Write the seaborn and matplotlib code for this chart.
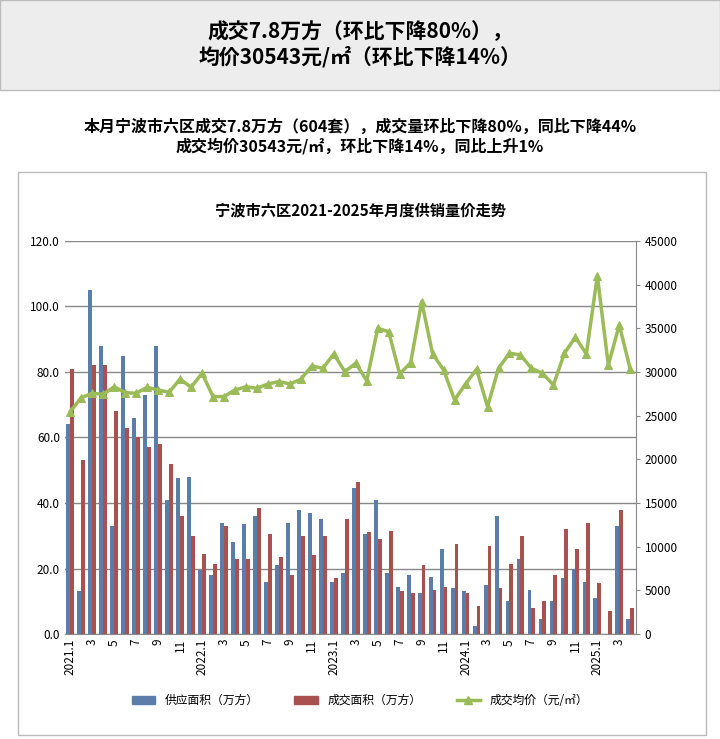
import numpy as np
import pandas as pd
import seaborn as sns
import matplotlib.pyplot as plt
from matplotlib.patches import Rectangle
from matplotlib.lines import Line2D
from matplotlib.patches import Patch

plt.rcParams["font.family"] = ["Noto Sans CJK SC", "Noto Sans CJK JP", "Noto Sans CJK TC",
                               "Noto Sans CJK KR", "DejaVu Sans"]

months = [f"{y}.{m}" for y in range(2021, 2026) for m in range(1, 13)][:52]
supply = [64, 13, 105, 88, 33, 85, 66, 73, 88, 41, 47.5, 48,
          19.5, 18, 34, 28, 33.5, 36, 16, 21, 34, 38, 37, 35,
          16, 18.5, 44.5, 30.5, 41, 18.5, 14.5, 18, 12.5, 17.5, 26, 14,
          13, 2.5, 15, 36, 10, 23, 13.5, 4.5, 10, 17, 20, 16,
          11, 0, 33, 4.5]
deal = [81, 53, 82, 82, 68, 63, 60, 57, 58, 52, 36, 30,
        24.5, 21.5, 33, 23, 23, 38.5, 30.5, 23.5, 18, 30, 24, 30,
        17, 35, 46.5, 31, 29, 31.5, 13, 12.5, 21, 13.5, 14.5, 27.5,
        12.5, 8.5, 27, 14, 21.5, 30, 8, 10, 18, 32, 26, 34,
        15.5, 7, 38, 8]
price = [25460, 27060, 27560, 27440, 28300, 27630, 27560, 28240, 27940, 27670, 29200, 28240,
         29850, 27180, 27180, 27940, 28300, 28130, 28630, 28900, 28630, 29160, 30690, 30420,
         32060, 30040, 31000, 29000, 35000, 34600, 29770, 31070, 38050, 32060, 30230, 26800,
         28630, 30300, 26030, 30420, 32140, 31950, 30420, 29850, 28510, 32140, 33970, 32060,
         40990, 30800, 35380, 30300]

blue, red, green = "#5A7DAA", "#A8514E", "#9BBB59"

df = pd.DataFrame({"month": months * 2,
                   "value": supply + deal,
                   "kind": ["供应面积（万方）"] * 52 + ["成交面积（万方）"] * 52})

fig = plt.figure(figsize=(7.2, 7.39), dpi=100)

# header band
fig.patches.append(Rectangle((0.0, 0.878), 1.0, 0.122, transform=fig.transFigure,
                             facecolor="#EDEDED", edgecolor="#BBBBBB", lw=1))
fig.text(0.5, 0.94, "成交7.8万方（环比下降80%），\n均价30543元/㎡（环比下降14%）",
         ha="center", va="center", fontsize=15, fontweight="bold", linespacing=1.2)
fig.text(0.5, 0.815, "本月宁波市六区成交7.8万方（604套），成交量环比下降80%，同比下降44%\n"
         "成交均价30543元/㎡，环比下降14%，同比上升1%",
         ha="center", va="center", fontsize=11.5, fontweight="bold", linespacing=1.2)
# chart frame
fig.patches.append(Rectangle((0.025, 0.005), 0.955, 0.762, transform=fig.transFigure,
                             facecolor="none", edgecolor="#BBBBBB", lw=1))
fig.text(0.5, 0.715, "宁波市六区2021-2025年月度供销量价走势", ha="center", va="center",
         fontsize=11, fontweight="bold")

ax = fig.add_axes([0.09, 0.142, 0.793, 0.532])
sns.barplot(data=df, x="month", y="value", hue="kind", palette=[blue, red],
            width=0.7, ax=ax, legend=False, saturation=1)
ax.set_ylim(0, 120)
ax.set_yticks(np.arange(0, 121, 20))
ax.set_yticklabels([f"{v:.1f}" for v in np.arange(0, 121, 20)], fontsize=8.5)
ax.yaxis.grid(True, color="#888888", lw=1)
ax.set_axisbelow(True)
ax.set_xlabel("")
ax.set_ylabel("")
ax.set_xlim(-0.5, 51.5)
labels = [m if m.endswith(".1") else m.split(".")[1] for m in months]
labels = [l if (i % 2 == 0) else "" for i, l in enumerate(labels)]
ax.set_xticks(range(52))
ax.set_xticklabels(labels, rotation=90, fontsize=8.5)
ax.tick_params(axis="both", length=0)
for s in ["top", "right", "left"]:
    ax.spines[s].set_visible(False)
ax.spines["bottom"].set_color("#888888")

ax2 = ax.twinx()
sns.lineplot(x=np.arange(52), y=price, color=green, lw=2.5, marker="^",
             markersize=6, markeredgecolor=green, ax=ax2)
ax2.set_ylim(0, 45000)
ax2.set_yticks(np.arange(0, 45001, 5000))
ax2.tick_params(axis="y", labelsize=8.5, length=3, color="#888888")
for s in ["top", "left", "bottom"]:
    ax2.spines[s].set_visible(False)
ax2.spines["right"].set_color("#888888")
ax2.set_xlim(-0.5, 51.5)

handles = [Patch(color=blue, label="供应面积（万方）"),
           Patch(color=red, label="成交面积（万方）"),
           Line2D([], [], color=green, lw=2.5, marker="^", label="成交均价（元/㎡）")]
fig.legend(handles=handles, loc="center", bbox_to_anchor=(0.5, 0.052), ncol=3,
           frameon=False, fontsize=8.5, handlelength=2, columnspacing=3)

fig.savefig("out.png", dpi=100)
